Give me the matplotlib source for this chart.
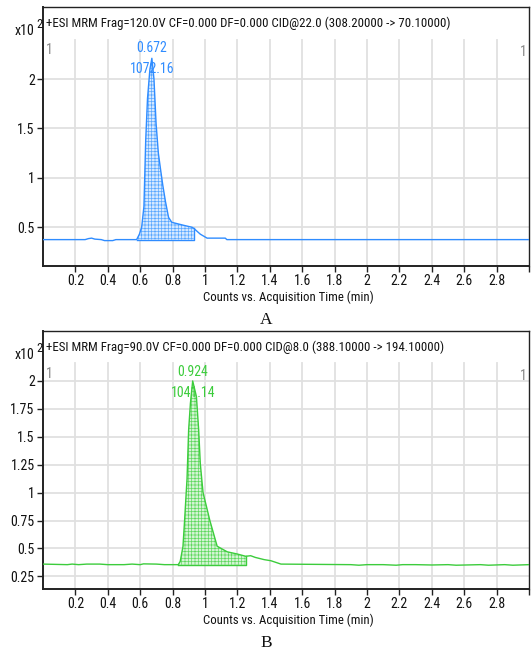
import matplotlib
matplotlib.use("Agg")
import matplotlib.pyplot as plt
from matplotlib import font_manager
from matplotlib.font_manager import FontProperties

plt.rcParams["hatch.linewidth"] = 0.5

# ---------------- data ----------------
titles = ["+ESI MRM Frag=120.0V CF=0.000 DF=0.000 CID@22.0 (308.20000 -> 70.10000)",
          "+ESI MRM Frag=90.0V CF=0.000 DF=0.000 CID@8.0 (388.10000 -> 194.10000)"]
panel_labels = ["A", "B"]
peak_rt = ["0.672", "0.924"]
peak_area = ["1072.16", "1041.14"]
x_label = "Counts vs. Acquisition Time (min)"

time_a = [0.00, 0.26, 0.28, 0.30, 0.32, 0.36, 0.38, 0.43, 0.45, 0.578, 0.595, 0.609, 0.623,
          0.634, 0.645, 0.66, 0.672, 0.685, 0.698, 0.712, 0.727, 0.740, 0.756, 0.775, 0.795, 0.868,
          0.92, 0.93, 0.971, 1.013, 1.125, 1.135, 3.00]
counts_a = [0.375, 0.375, 0.385, 0.39, 0.38, 0.375, 0.365, 0.365, 0.375, 0.375, 0.43, 0.50, 0.71,
            1.38, 1.80, 2.10, 2.21, 2.00, 1.55, 1.25, 1.07, 0.92, 0.76, 0.60, 0.55, 0.52,
            0.50, 0.49, 0.43, 0.39, 0.39, 0.375, 0.375]
fill_a = (0.578, 0.93)
base_a = 0.375

time_b = [0.00, 0.15, 0.18, 0.22, 0.27, 0.35, 0.40, 0.50, 0.55, 0.60, 0.62, 0.70, 0.75, 0.835,
          0.847, 0.864, 0.874, 0.884, 0.889, 0.899, 0.91, 0.924, 0.947, 0.961, 0.971, 0.98,
          0.988, 1.03, 1.075, 1.137, 1.20, 1.251, 1.282, 1.31, 1.365, 1.407, 1.469, 1.90,
          1.95, 2.00, 2.10, 2.18, 2.22, 2.30, 2.40, 2.50, 2.55, 2.70, 2.75, 2.85, 2.90, 3.00]
counts_b = [0.36, 0.355, 0.36, 0.355, 0.36, 0.36, 0.355, 0.355, 0.36, 0.355, 0.362, 0.36, 0.355, 0.355,
            0.384, 0.518, 0.75, 1.00, 1.12, 1.56, 1.80, 2.00, 1.86, 1.56, 1.26, 1.12,
            1.00, 0.75, 0.52, 0.47, 0.45, 0.43, 0.435, 0.42, 0.40, 0.39, 0.36, 0.355,
            0.35, 0.355, 0.355, 0.35, 0.355, 0.355, 0.352, 0.355, 0.35, 0.355, 0.35, 0.355, 0.35, 0.355]
fill_b = (0.835, 1.251)
base_b = 0.355

xticks = [0.2, 0.4, 0.6, 0.8, 1.0, 1.2, 1.4, 1.6, 1.8, 2.0, 2.2, 2.4, 2.6, 2.8, 3.0]
xticklabels = ["0.2", "0.4", "0.6", "0.8", "1", "1.2", "1.4", "1.6", "1.8", "2", "2.2", "2.4", "2.6", "2.8", ""]
yticks_a = [0.5, 1.0, 1.5, 2.0]
yticklabels_a = ["0.5", "1", "1.5", "2"]
yticks_b = [0.25, 0.5, 0.75, 1.0, 1.25, 1.5, 1.75, 2.0]
yticklabels_b = ["0.25", "0.5", "0.75", "1", "1.25", "1.5", "1.75", "2"]

# ---------------- font choice (narrow sans) ----------------
def pick_narrow():
    byname = {}
    for f in font_manager.fontManager.ttflist:
        fn = f.fname.split("/")[-1]
        byname[fn] = f.fname
    prefs = ["LiberationSansNarrow-Regular.ttf", "RobotoCondensed-Regular.ttf",
             "RobotoCondensed[wght].ttf", "ArchivoNarrow[wght].ttf", "ArchivoNarrow-Regular.ttf",
             "AsapCondensed-Regular.ttf", "DejaVuSansCondensed.ttf"]
    for p in prefs:
        if p in byname:
            return byname[p]
    return None


NARROW = pick_narrow()


def fp(size):
    if NARROW:
        return FontProperties(fname=NARROW, size=size)
    return FontProperties(family="DejaVu Sans", size=size)


SERIF = FontProperties(family="Liberation Serif", size=12.5)

W, H = 532, 655
fig = plt.figure(figsize=(W / 100, H / 100), dpi=100)
renderer = fig.canvas.get_renderer()


def fit_size(text, target_px, start=10.0):
    t = fig.text(0, 0, text, fontproperties=fp(start))
    w = t.get_window_extent(renderer).width
    t.remove()
    return start * target_px / w


title_size = fit_size(titles[0], 403)
tick_size = 10.0
label_size = fit_size(x_label, 157) * 1.08
peak_size = 10.0


def fx(x):
    return x / W


def fy(y):
    return 1 - y / H


panels = [
    dict(top=7, bottom=266, ylim=(0.108, 2.729), gridtop=40, t=time_a, c=counts_a, fill=fill_a,
         base=base_a, yt=yticks_a, ytl=yticklabels_a, color="#2f8cff", fc="#d6e9ff", hc="#5aa8ff",
         rt_xy=(152, 48), area_xy=(152, 69), lab_y=320),
    dict(top=331, bottom=589, ylim=(0.137, 2.447), gridtop=363, t=time_b, c=counts_b, fill=fill_b,
         base=base_b, yt=yticks_b, ytl=yticklabels_b, color="#3ccc3c", fc="#d4f4d4", hc="#5fd85f",
         rt_xy=(193, 372), area_xy=(193, 393), lab_y=643),
]

for i, p in enumerate(panels):
    ax = fig.add_axes([fx(43), fy(p["bottom"]), fx(529) - fx(43), fy(p["top"]) - fy(p["bottom"])])
    ax.set_xlim(0, 3.0)
    ax.set_ylim(*p["ylim"])
    gfrac = (p["bottom"] - p["gridtop"]) / (p["bottom"] - p["top"])
    for xt in xticks[:-1]:
        ax.axvline(xt, ymin=0, ymax=gfrac, color="#e0e0e0", lw=1.3, zorder=0)
    for yt in p["yt"]:
        ax.axhline(yt, color="#e0e0e0", lw=1.3, zorder=0)

    t, c = p["t"], p["c"]
    x0, x1 = p["fill"]
    sel_t = [tt for tt in t if x0 <= tt <= x1]
    sel_c = [cc for tt, cc in zip(t, c) if x0 <= tt <= x1]
    ax.fill_between(sel_t, sel_c, p["base"], facecolor=p["fc"], edgecolor=p["hc"],
                    hatch="+++++", linewidth=0, zorder=1)
    ax.plot([x0, x1, x1], [p["base"], p["base"], sel_c[-1]], color=p["color"], lw=1.0, zorder=2)
    ax.plot(t, c, color=p["color"], lw=1.0, zorder=3)

    ax.set_xticks(xticks)
    ax.set_xticklabels(xticklabels, fontproperties=fp(tick_size))
    ax.set_yticks(p["yt"])
    ax.set_yticklabels(p["ytl"], fontproperties=fp(tick_size))
    ax.tick_params(axis="both", direction="out", length=4, width=1, pad=2, colors="#222222")
    ax.tick_params(axis="both", labelcolor="#111111")
    for s in ax.spines.values():
        s.set_color("#222222")
        s.set_linewidth(1.0)
    ax.spines["left"].set_linewidth(1.4)
    ax.spines["bottom"].set_linewidth(1.4)

    fig.text(fx(46), fy(p["top"] + 16), titles[i], fontproperties=fp(title_size),
             ha="left", va="center", color="#111111")
    fig.text(fx(46), fy(p["top"] + 43), "1", fontproperties=fp(tick_size), color="#888888",
             ha="left", va="center")
    fig.text(fx(527), fy(p["top"] + 45), "1", fontproperties=fp(tick_size), color="#888888",
             ha="right", va="center")
    fig.text(fx(34), fy(p["top"] + 24), "x10", fontproperties=fp(tick_size), ha="right",
             va="center", color="#111111")
    fig.text(fx(36), fy(p["top"] + 17), "2", fontproperties=fp(tick_size * 0.9), ha="left",
             va="center", color="#111111")
    fig.text(fx(p["rt_xy"][0]), fy(p["rt_xy"][1]), peak_rt[i], fontproperties=fp(peak_size),
             color=p["color"], ha="center", va="center")
    fig.text(fx(p["area_xy"][0]), fy(p["area_xy"][1]), peak_area[i], fontproperties=fp(peak_size),
             color=p["color"], ha="center", va="center")
    fig.text(fx(288), fy(p["bottom"] + 31), x_label, fontproperties=fp(label_size),
             ha="center", va="center", color="#111111")
    fig.text(fx(266), fy(p["lab_y"]), panel_labels[i], fontproperties=SERIF,
             ha="center", va="center", color="#111111")

fig.savefig("out.png", dpi=100)
